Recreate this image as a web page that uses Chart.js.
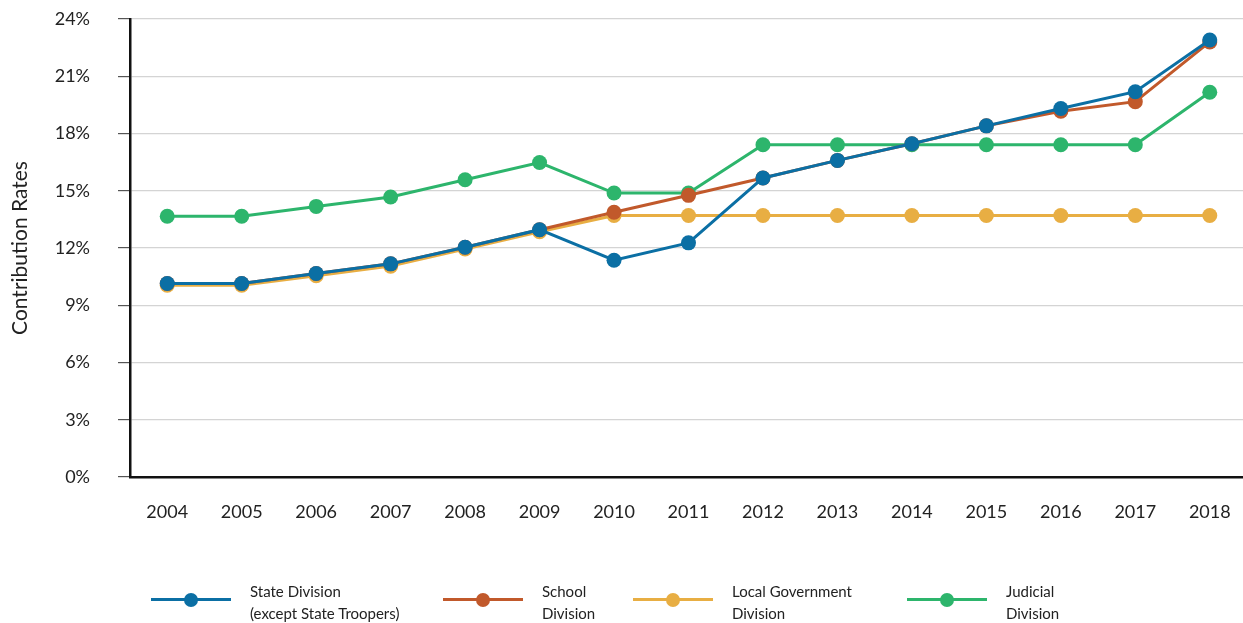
<!DOCTYPE html>
<html>
<head>
<meta charset="utf-8">
<script src="https://cdn.jsdelivr.net/npm/chart.js@4"></script>
<style>
  html, body { margin: 0; padding: 0; background: #fff; overflow: hidden; }
  #wrap { position: relative; width: 1243px; height: 623px; overflow: hidden; }
  canvas { position: absolute; left: 0; top: 0; }
  .legend-item { position: absolute; top: 580px; font-family: Lato, "Noto Sans", sans-serif; font-size: 15px; line-height: 22px; color: #222; }
  .legend-item .swatch { position: absolute; top: 18px; height: 3px; }
  .legend-item .dot { position: absolute; top: 12.5px; width: 14px; height: 14px; border-radius: 50%; }
  .legend-item .txt { position: absolute; top: 0; white-space: nowrap; }
</style>
</head>
<body>
<div id="wrap">
  <canvas id="rates" width="1247" height="623"></canvas>
  <div id="legend"></div>
</div>
<script>
const years = ["2004", "2005", "2006", "2007", "2008", "2009", "2010", "2011", "2012", "2013", "2014", "2015", "2016", "2017", "2018"];

const stateDivision = [10.14, 10.14, 10.66, 11.17, 12.04, 12.96, 11.36, 12.27, 15.67, 16.59, 17.46, 18.40, 19.31, 20.19, 22.90];
const schoolDivision = [10.14, 10.14, 10.66, 11.17, 12.04, 12.96, 13.87, 14.76, 15.67, 16.59, 17.46, 18.40, 19.17, 19.67, 22.80];
const localGovernment = [10.05, 10.05, 10.55, 11.05, 11.95, 12.85, 13.70, 13.70, 13.70, 13.70, 13.70, 13.70, 13.70, 13.70, 13.70];
const judicialDivision = [13.66, 13.66, 14.18, 14.67, 15.58, 16.48, 14.88, 14.88, 17.41, 17.41, 17.41, 17.41, 17.41, 17.41, 20.16];

const yTicks = [0, 3, 6, 9, 12, 15, 18, 21, 24];

const series = [
  { label: ["State Division", "(except State Troopers)"], data: stateDivision, color: "#0b6fa4", legendX: 151 },
  { label: ["School", "Division"], data: schoolDivision, color: "#c1592b", legendX: 443 },
  { label: ["Local Government", "Division"], data: localGovernment, color: "#e8ae43", legendX: 633 },
  { label: ["Judicial", "Division"], data: judicialDivision, color: "#2db56c", legendX: 907 }
];

const font = { family: "Lato, 'Noto Sans', sans-serif", size: 18 };

// scales add their tick padding to the chart padding; drop it so the
// plot area is set by layout.padding alone
const noScalePadding = scale => {
  scale.paddingTop = 0;
  scale.paddingBottom = 0;
  scale.paddingLeft = 0;
  scale.paddingRight = 0;
};

new Chart(document.getElementById("rates"), {
  type: "line",
  data: {
    labels: years,
    // first dataset is painted last, so State Division sits on top
    datasets: series.map(s => ({
      label: s.label.join(" "),
      data: s.data,
      borderColor: s.color,
      backgroundColor: s.color,
      pointBackgroundColor: s.color,
      pointBorderWidth: 0,
      pointRadius: 7.5,
      borderWidth: 3,
      tension: 0
    }))
  },
  options: {
    responsive: false,
    animation: false,
    events: [],
    layout: { autoPadding: false, padding: { top: 19, right: 0, bottom: 96, left: 0 } },
    plugins: { legend: { display: false }, tooltip: { enabled: false } },
    scales: {
      x: {
        offset: true,
        grid: { display: true, drawOnChartArea: false, drawTicks: false },
        border: { display: true, color: "#111", width: 2.5 },
        ticks: { color: "#222", font: font, padding: 24, maxRotation: 0 },
        afterFit: scale => { scale.height = 50; noScalePadding(scale); }
      },
      y: {
        min: 0,
        max: 24,
        afterBuildTicks: scale => { scale.ticks = yTicks.map(v => ({ value: v })); },
        grid: { color: "#d4d4d4", lineWidth: 1.2, tickLength: 12, tickColor: "#555" },
        border: { display: true, color: "#111", width: 2.5 },
        ticks: { color: "#222", font: font, padding: 28, callback: v => v + "%" },
        title: { display: true, text: "Contribution Rates", color: "#222", font: { family: font.family, size: 21 }, padding: { top: 8, bottom: 0 } },
        afterFit: scale => { scale.width = 130; noScalePadding(scale); }
      }
    }
  }
});

// two-line legend below the plot
const legend = document.getElementById("legend");
series.forEach(s => {
  const item = document.createElement("div");
  item.className = "legend-item";
  item.style.left = s.legendX + "px";
  item.innerHTML =
    `<div class="swatch" style="left:0;width:80px;background:${s.color}"></div>` +
    `<div class="dot" style="left:33px;background:${s.color}"></div>` +
    `<div class="txt" style="left:99px">${s.label.join("<br>")}</div>`;
  legend.appendChild(item);
});
</script>
</body>
</html>
